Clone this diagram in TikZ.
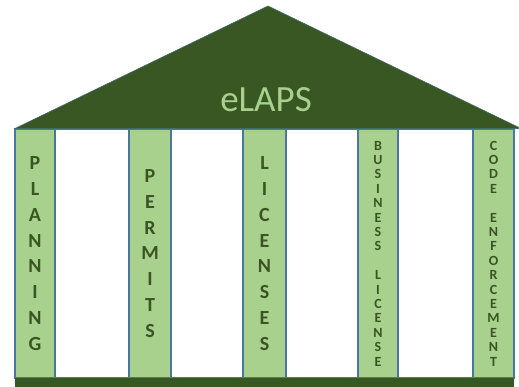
\documentclass[tikz,border=0pt]{standalone}
\usepackage{fontspec}
\setmainfont{Carlito}
\definecolor{roofgreen}{HTML}{385723}
\definecolor{pillarfill}{HTML}{A9D18E}
\definecolor{edgeblue}{HTML}{4A76A2}
\definecolor{lettergreen}{HTML}{3A5523}
\tikzset{
  pillar/.style={draw=edgeblue, line width=1.1pt, fill=pillarfill,
    minimum height=249pt, inner sep=0pt, align=center,
    text=lettergreen, font=\bfseries\fontsize{20}{25.8}\selectfont},
  smallpillar/.style={pillar, font=\bfseries\fontsize{14}{14.4}\selectfont},
  roof/.style={fill=roofgreen, draw=edgeblue!60!roofgreen, line width=0.6pt, line join=miter},
  base/.style={fill=roofgreen, draw=none},
  frame/.style={draw=edgeblue, line width=1.1pt, fill=white}
}
\begin{document}
\begin{tikzpicture}[x=1pt, y=-1pt]
  \useasboundingbox (0,0) rectangle (519,387);
  % white bay behind the columns
  \draw[frame] (15,129) rectangle (514,378);
  % columns
  \node[pillar, minimum width=40pt] (planning) at (35,253.5)
    {P\\L\\A\\N\\N\\I\\N\\G};
  \node[pillar, minimum width=42pt] (permits) at (150,253.5)
    {P\\E\\R\\M\\I\\T\\S};
  \node[pillar, minimum width=43pt] (licenses) at (264.5,253.5)
    {L\\I\\C\\E\\N\\S\\E\\S};
  \node[smallpillar, minimum width=40pt] (business) at (378,253.5)
    {B\\U\\S\\I\\N\\E\\S\\S\\[14.4pt]L\\I\\C\\E\\N\\S\\E};
  \node[smallpillar, minimum width=41pt] (code) at (493.5,253.5)
    {C\\O\\D\\E\\[14.4pt]E\\N\\F\\O\\R\\C\\E\\M\\E\\N\\T};
  % floor slab
  \fill[base] (15,378) rectangle (514,387);
  % pediment
  \path[roof] (15,128.5) -- (268,6) -- (521,128.5) -- cycle;
  \node[text=pillarfill, font=\fontsize{37}{42}\selectfont, anchor=base] (title) at (266,112) {eLAPS};
\end{tikzpicture}
\end{document}
